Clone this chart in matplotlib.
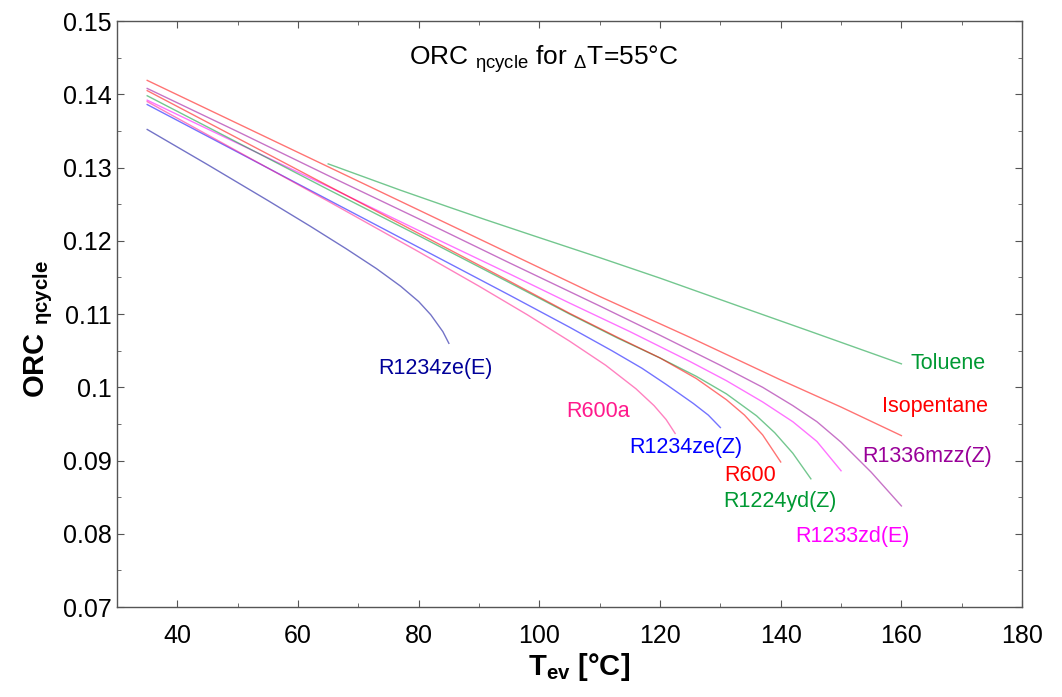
import matplotlib
matplotlib.use('Agg')
import matplotlib.pyplot as plt
from matplotlib.ticker import MultipleLocator

plt.rcParams['font.family'] = ['Liberation Sans', 'DejaVu Sans']
plt.rcParams['mathtext.fontset'] = 'custom'
plt.rcParams['mathtext.rm'] = 'Liberation Sans'
plt.rcParams['mathtext.bf'] = 'Liberation Sans:bold'
plt.rcParams['mathtext.it'] = 'Liberation Sans:italic'

# Evaporation temperature [C] and cycle efficiency
t_toluene = [65, 70, 77, 85, 91, 99, 110, 120, 134, 145, 160]
eta_toluene = [0.1305, 0.1290, 0.1269, 0.1246, 0.1229, 0.1207, 0.1177, 0.1149, 0.1108, 0.1076, 0.1032]

t_isopentane = [35, 50, 65, 80, 95, 110, 125, 140, 150, 160]
eta_isopentane = [0.1419, 0.1360, 0.1301, 0.1242, 0.1183, 0.1124, 0.1068, 0.1010, 0.0973, 0.0934]

t_r1336 = [35, 50, 65, 80, 95, 110, 120, 130, 137, 142, 146, 150, 155, 160]
eta_r1336 = [0.1408, 0.1349, 0.1289, 0.1230, 0.1170, 0.1111, 0.1071, 0.1030, 0.1000, 0.0975, 0.0953, 0.0925, 0.0884, 0.0838]

t_r1233 = [35, 50, 65, 80, 95, 105, 115, 125, 131, 137, 142, 146, 150]
eta_r1233 = [0.1392, 0.1333, 0.1274, 0.1214, 0.1155, 0.1115, 0.1076, 0.1035, 0.1009, 0.0980, 0.0953, 0.0926, 0.0886]

t_r1224 = [35, 50, 65, 80, 95, 105, 113, 120, 126, 131, 136, 139, 142, 145]
eta_r1224 = [0.1398, 0.1334, 0.1270, 0.1207, 0.1143, 0.1100, 0.1067, 0.1040, 0.1015, 0.0991, 0.0961, 0.0938, 0.0910, 0.0875]

t_r600 = [35, 50, 65, 80, 95, 105, 113, 120, 126, 131, 134, 137, 140]
eta_r600 = [0.1405, 0.1340, 0.1275, 0.1210, 0.1145, 0.1101, 0.1068, 0.1040, 0.1012, 0.0983, 0.0962, 0.0935, 0.0898]

t_r1234z = [35, 50, 65, 80, 95, 105, 112, 117, 121, 125.5, 128, 130]
eta_r1234z = [0.1386, 0.1321, 0.1256, 0.1191, 0.1126, 0.1082, 0.1050, 0.1026, 0.1004, 0.0978, 0.0962, 0.0945]

t_r600a = [35, 50, 65, 80, 90, 98, 105, 111, 116, 119, 121, 122.5]
eta_r600a = [0.1390, 0.1322, 0.1254, 0.1185, 0.1138, 0.1099, 0.1063, 0.1030, 0.0998, 0.0975, 0.0956, 0.0937]

t_r1234e = [35, 45, 55, 62, 68, 73, 77, 80, 82, 84, 85]
eta_r1234e = [0.1352, 0.1304, 0.1255, 0.1220, 0.1189, 0.1162, 0.1138, 0.1117, 0.1099, 0.1076, 0.1060]

names = ['Toluene', 'Isopentane', 'R1336mzz(Z)', 'R1233zd(E)', 'R1224yd(Z)',
         'R600', 'R1234ze(Z)', 'R600a', 'R1234ze(E)']
colors = ['#009933', '#ff0000', '#990099', '#ff00ff', '#009933',
          '#ff0000', '#0000ff', '#ff1a8c', '#000099']
temps = [t_toluene, t_isopentane, t_r1336, t_r1233, t_r1224,
         t_r600, t_r1234z, t_r600a, t_r1234e]
etas = [eta_toluene, eta_isopentane, eta_r1336, eta_r1233, eta_r1224,
        eta_r600, eta_r1234z, eta_r600a, eta_r1234e]

# where the fluid names sit (T, eta)
label_t = [167.8, 165.6, 164.2, 151.9, 139.8, 135.0, 124.3, 109.7, 82.8]
label_eta = [0.1032, 0.0974, 0.0906, 0.0796, 0.0844, 0.0880, 0.0918, 0.0967, 0.1026]

fig = plt.figure(figsize=(10.62, 6.97), dpi=100)
ax = fig.add_axes([0.1102, 0.1291, 0.8522, 0.8407])

for t, eta, c in zip(temps, etas, colors):
    ax.plot(t, eta, color=c, lw=1.0, alpha=0.55)

for name, c, lt, le in zip(names, colors, label_t, label_eta):
    ax.text(lt, le, name, color=c, fontsize=15.5, ha='center', va='center')

ax.text(100.7, 0.1448, 'ORC $_{\\mathregular{ηcycle}}$ for $_{\\mathregular{Δ}}$T=55°C',
        fontsize=19, ha='center', va='center')

ax.set_xlim(30, 180)
ax.set_ylim(0.07, 0.15)
ax.xaxis.set_major_locator(MultipleLocator(20))
ax.xaxis.set_minor_locator(MultipleLocator(10))
ax.yaxis.set_major_locator(MultipleLocator(0.01))
ax.yaxis.set_minor_locator(MultipleLocator(0.005))
ax.set_yticks([0.07, 0.08, 0.09, 0.1, 0.11, 0.12, 0.13, 0.14, 0.15])
ax.set_yticklabels(['0.07', '0.08', '0.09', '0.1', '0.11', '0.12', '0.13', '0.14', '0.15'])

ax.tick_params(which='both', direction='in', top=True, right=True, color='#555555')
ax.tick_params(which='major', length=5, labelsize=18)
ax.tick_params(which='minor', length=3)
ax.tick_params(axis='x', pad=12)
ax.tick_params(axis='y', pad=4)
for s in ax.spines.values():
    s.set_color('#555555')
    s.set_linewidth(1.0)

ax.set_xlabel('T$_{\\mathregular{ev}}$ [°C]', fontsize=21, fontweight='bold')
ax.set_ylabel('ORC $_{\\mathregular{ηcycle}}$', fontsize=21, fontweight='bold')
ax.xaxis.set_label_coords(0.51, -0.075)
ax.yaxis.set_label_coords(-0.068, 0.475)

fig.savefig('out.png', dpi=100)
